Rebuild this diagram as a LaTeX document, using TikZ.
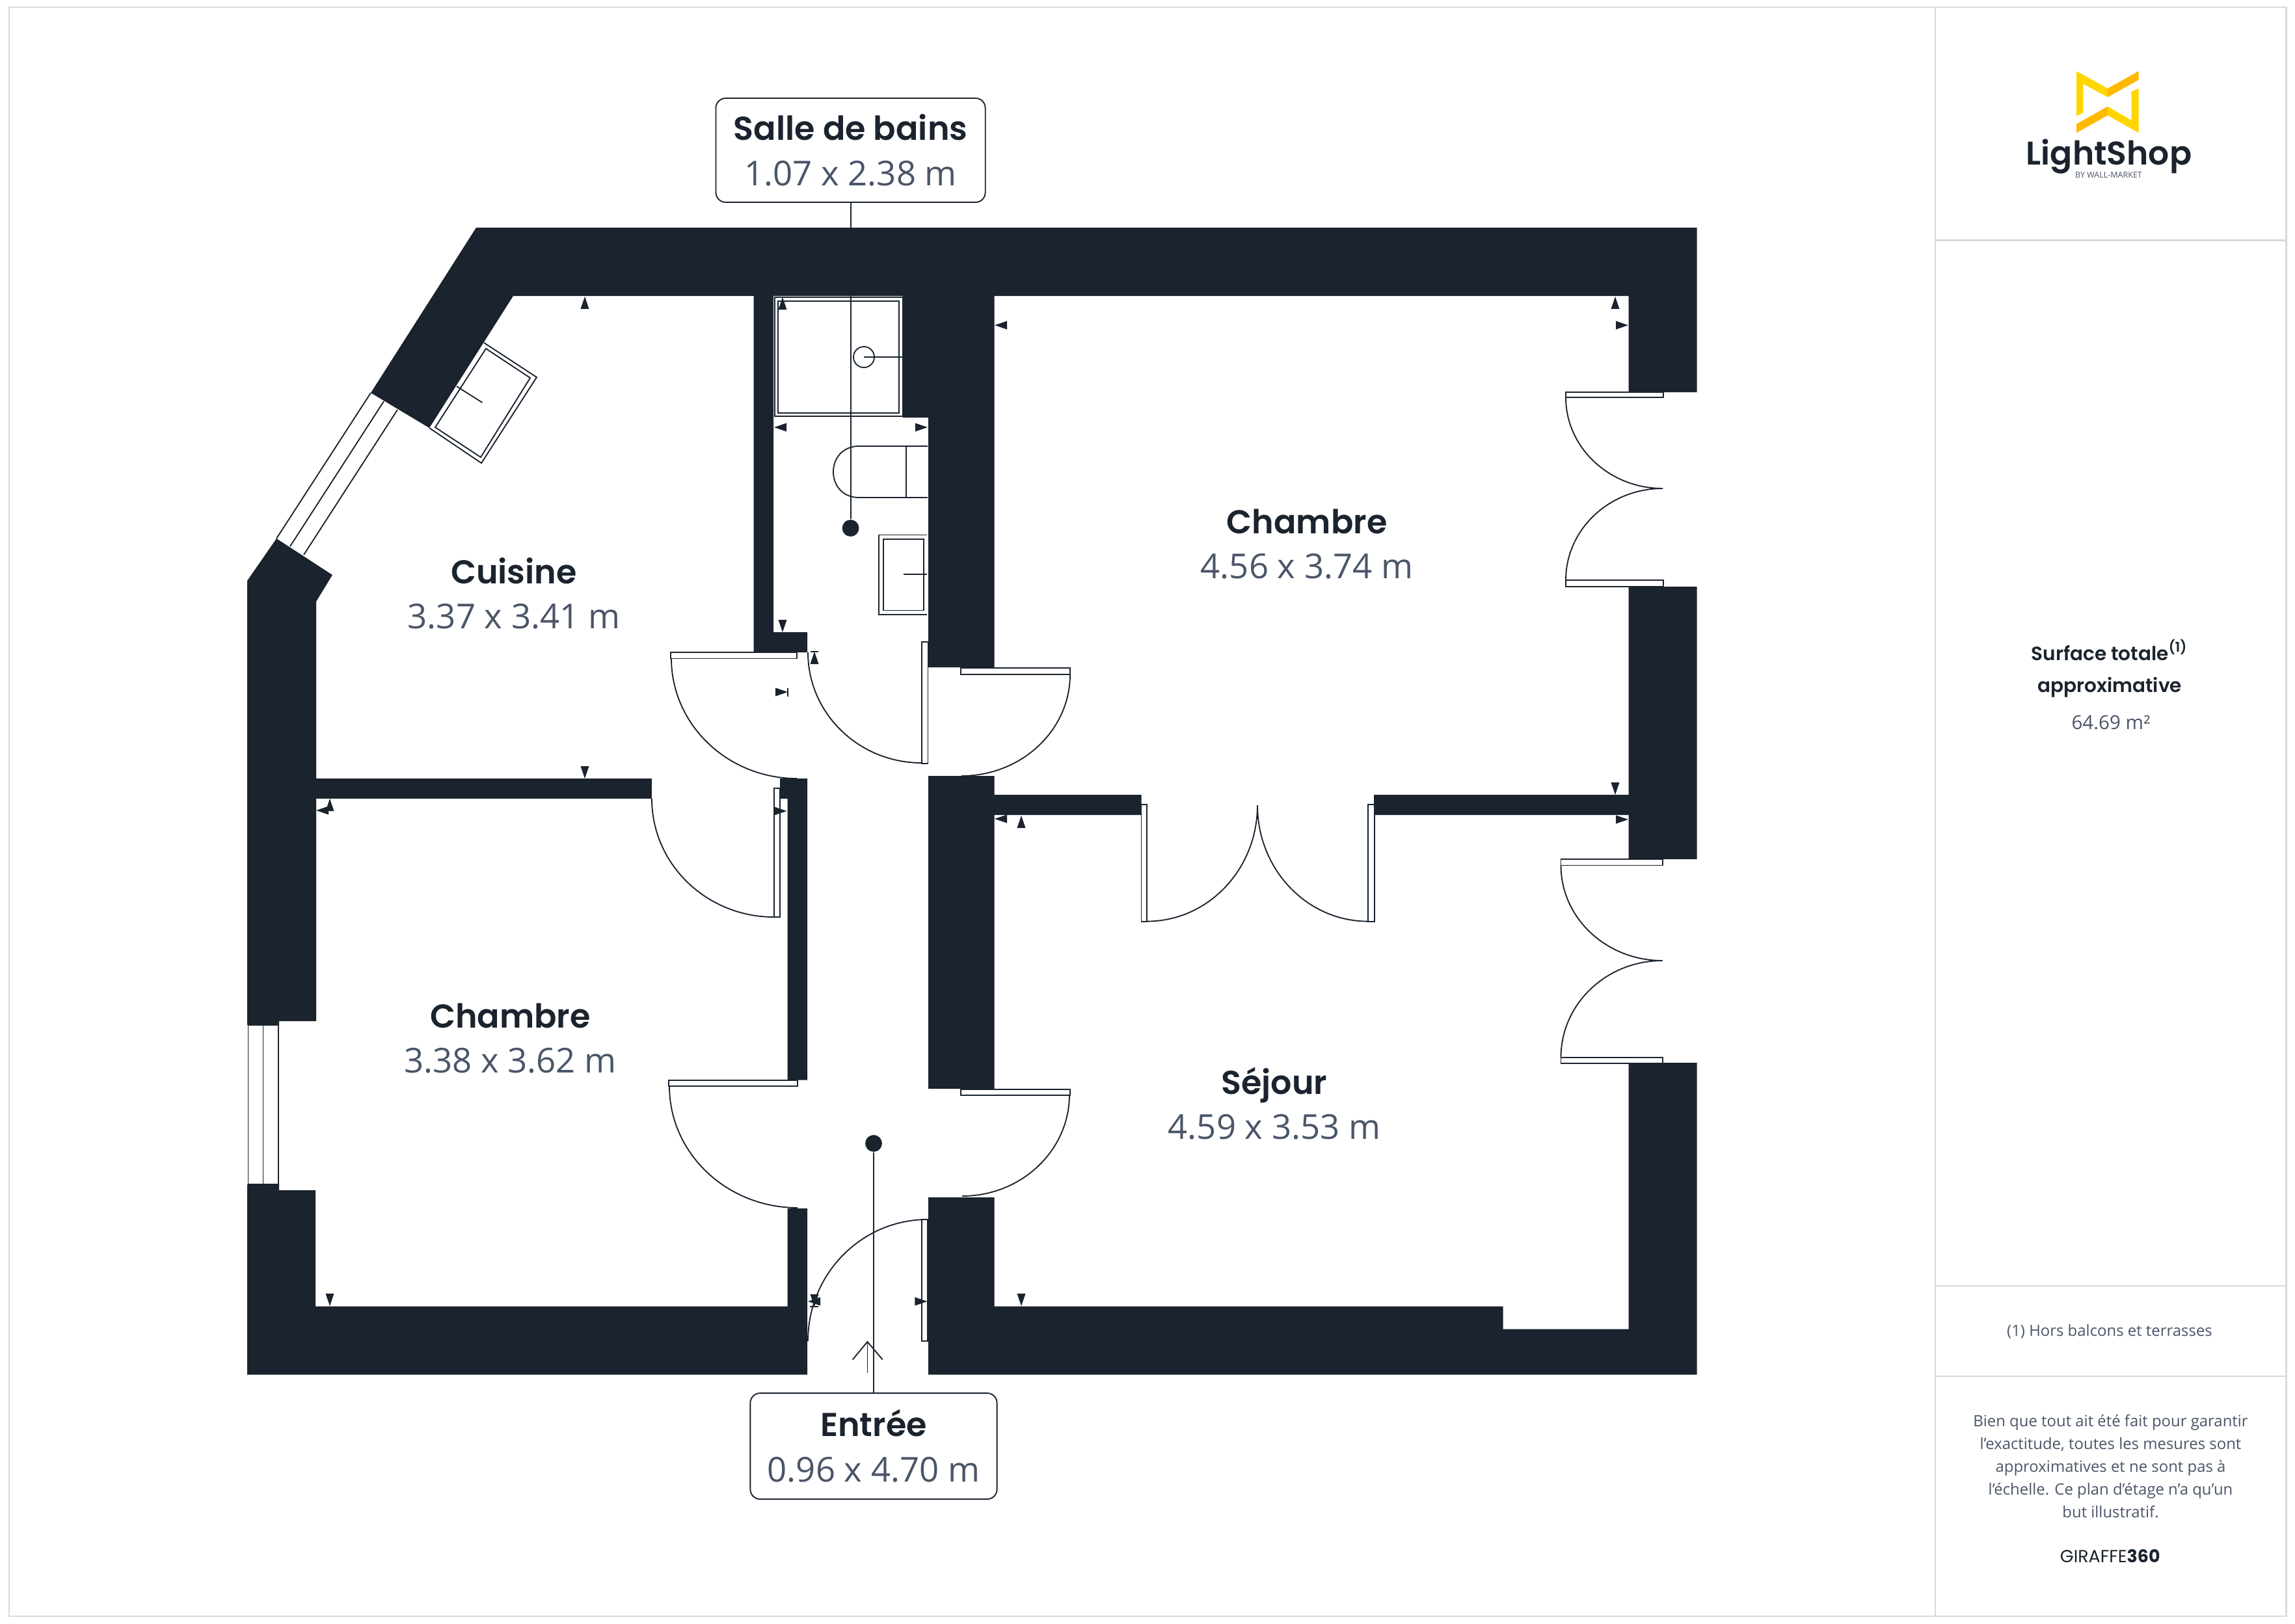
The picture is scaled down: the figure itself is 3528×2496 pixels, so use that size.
\documentclass[tikz,border=0pt]{standalone}
\usepackage{fontspec}
\usepackage{xcolor}
\setmainfont{Open Sans}
\newfontfamily\namefont{Poppins SemiBold}
\newfontfamily\girfont{Poppins}
\definecolor{wallcol}{HTML}{1A232E}
\definecolor{dimcol}{HTML}{4A5568}
\definecolor{panelcol}{HTML}{D9D9D9}
\definecolor{logoyel}{HTML}{FFD600}
\definecolor{logoora}{HTML}{FFB900}
\newcommand{\roomtext}[2]{{\namefont\fontsize{12.2}{16.7}\selectfont\color{wallcol}#1}\\{\color{dimcol}#2}}
\begin{document}
\begin{tikzpicture}[x=0.24pt,y=-0.24pt,
    wall/.style={fill=wallcol,draw=none},
    thinline/.style={draw=wallcol,line width=0.45pt},
    leaf/.style={thinline,fill=white},
    panel/.style={draw=panelcol,line width=0.55pt},
    room/.style={align=center,inner sep=0pt,font=\fontsize{12.65}{16.7}\selectfont},
    callout/.style={draw=wallcol,line width=0.45pt,fill=white,rounded corners=3.6pt,inner sep=0pt},
    spot/.style={circle,fill=wallcol,inner sep=0pt,minimum size=6.2pt},
    small/.style={align=center,inner sep=0pt,text=dimcol,font=\fontsize{5.74}{8.4}\selectfont}]
    \useasboundingbox (0,0) rectangle (3528,2496);

    % The sheet
    \draw[panel] (14,10.7) rectangle (3514.6,2485);
    \draw[panel] (2975,10.7) -- (2975,2485);
    \draw[panel] (2975,369.5) -- (3514.6,369.5);
    \draw[panel] (2975,1977) -- (3514.6,1977);
    \draw[panel] (2975,2116) -- (3514.6,2116);

    % The walls
    \fill[wall] (732,350) -- (2608.7,350) -- (2608.7,603) -- (2503.7,603) -- (2503.7,455) -- (1528.6,455) -- (1528.6,1026) -- (1427,1026) -- (1427,642) -- (1387.5,642) -- (1387.5,455) -- (1189,455) -- (1189,972) -- (1241,972) -- (1241,1003) -- (1158.5,1003) -- (1158.5,455) -- (789,455) -- (660,658) -- (570,604) -- cycle;
    \fill[wall] (425,828) -- (511,884) -- (486,925) -- (486,1570) -- (429,1570) -- (429,1576) -- (380,1576) -- (380,893) -- cycle;
    \fill[wall] (380,1821) -- (429,1821) -- (429,1830) -- (485,1830) -- (485,2008.5) -- (1210.6,2008.5) -- (1210.6,1858) -- (1241,1858) -- (1241,2113.6) -- (380,2113.6) -- cycle;
    \fill[wall] (485,1196.6) -- (1001.5,1196.6) -- (1001.5,1228) -- (485,1228) -- cycle;
    \fill[wall] (1199,1197) -- (1241,1197) -- (1241,1660.5) -- (1210.6,1660.5) -- (1210.6,1228) -- (1199,1228) -- cycle;
    \fill[wall] (1427,1193) -- (1528.6,1193) -- (1528.6,1222) -- (1754.5,1222) -- (1754.5,1253) -- (1528.6,1253) -- (1528.6,1674) -- (1427,1674) -- cycle;
    \fill[wall] (2112,1222) -- (2503.7,1222) -- (2503.7,902) -- (2608.7,902) -- (2608.7,1321) -- (2503.7,1321) -- (2503.7,1253) -- (2112,1253) -- cycle;
    \fill[wall] (1427,1841) -- (1528.6,1841) -- (1528.6,2008.5) -- (2310.7,2008.5) -- (2310.7,2043.5) -- (2503.7,2043.5) -- (2503.7,1634) -- (2608.7,1634) -- (2608.7,2113.6) -- (1427,2113.6) -- cycle;

    % Windows
    \draw[thinline] (570,604) -- (425,828) (590,617) -- (446,840) (611,630) -- (467,853);
    \draw[thinline] (381.5,1576) -- (381.5,1821) -- (427.6,1821) -- (427.6,1576) -- cycle (404.5,1576) -- (404.5,1821);

    % Door leaves
    \foreach \xa/\ya/\xb/\yb in {1031/1003/1225/1012.5,1417/987/1426.5/1174,1477/1027/1645/1037,1190/1212/1199/1410,1027.6/1661/1226/1670.4,1477/1675/1644.6/1684,1417/1875/1426/2062,2406.7/603/2556.7/611,2406.7/892/2556.7/902,1754.5/1237/1763/1416.6,2103/1237/2112.6/1416.6,2399.5/1321/2556/1330.5,2399.5/1626/2556/1635}
        \draw[leaf] (\xa,\ya) rectangle (\xb,\yb);

    % Door swings
    \draw[thinline] (1032,1012) .. controls (1032,1114) and (1118.4,1197) .. (1225,1197);
    \draw[thinline] (1242,1003) .. controls (1242,1097) and (1320.3,1173) .. (1417,1173);
    \draw[thinline] (1645,1037) .. controls (1645,1123) and (1570,1193) .. (1478,1193);
    \draw[thinline] (1002,1228) .. controls (1002,1328.5) and (1086,1410) .. (1190,1410);
    \draw[thinline] (1029,1670) .. controls (1029,1773) and (1117,1857) .. (1226,1857);
    \draw[thinline] (1644,1683) .. controls (1644,1769) and (1570,1839) .. (1479,1839);
    \draw[thinline] (1426,1875) .. controls (1324.4,1875) and (1242,1958.7) .. (1242,2062);
    \draw[thinline] (2407,611) .. controls (2407,688) and (2474,751) .. (2556,751);
    \draw[thinline] (2407,892) .. controls (2407,814) and (2474,751) .. (2556,751);
    \draw[thinline] (1763,1416.6) .. controls (1857,1416.6) and (1933,1336.6) .. (1933,1238);
    \draw[thinline] (2103,1416.6) .. controls (2009,1416.6) and (1933,1336.6) .. (1933,1238);
    \draw[thinline] (2399.5,1330.5) .. controls (2399.5,1411.4) and (2469.4,1477) .. (2555.6,1477);
    \draw[thinline] (2399.5,1626) .. controls (2399.5,1543.7) and (2469.4,1477) .. (2555.6,1477);

    % Fittings
    \draw[thinline] (744,527) -- (825,580) -- (740,712) -- (660,658);
    \draw[thinline] (747,536) -- (815,581) -- (739,703) -- (669,657) -- cycle;
    \draw[thinline] (702,594) -- (741.5,619);
    \draw[thinline] (1191,457) rectangle (1387.5,640);
    \draw[thinline] (1196,463) rectangle (1382,635);
    \draw[thinline] (1328,549) circle[radius=16];
    \draw[thinline] (1328,549) -- (1387,549);
    \draw[thinline] (1426,686) -- (1320.5,686) .. controls (1295,686) and (1281,705) .. (1281,725.5) .. controls (1281,746) and (1295,765) .. (1320.5,765) -- (1426,765);
    \draw[thinline] (1393,686) -- (1393,765);
    \draw[thinline] (1425,822.5) -- (1351,822.5) -- (1351,945) -- (1425,945);
    \draw[thinline] (1358,829) rectangle (1420,938.5);
    \draw[thinline] (1389,883) -- (1425,883);

    % Wall marks
    \foreach \tx/\ty/\tang in {899/456/-90,1203/457/-90,1252/1002/-90,1570/1254/-90,2483/456/-90,507/1228/-90,
        899/1197/90,1203/972/90,2483/1222/90,1570/2008/90,507/2008/90,1252/2009/90,
        1529/500/0,1190/657/0,1529/1259/0,486/1246/0,1242/2001/0,
        1426/657/180,1211/1064/180,1209.4/1247/180,2503/500/180,2503/1260/180,1425.4/2001/180}
        \fill[wallcol,shift={(\tx,\ty)},rotate=\tang] (0,0) -- (19,6.5) -- (19,-6.5) -- cycle;
    \draw[thinline] (1245.5,1002) -- (1258,1002);
    \draw[thinline] (1211,1058) -- (1211,1070.5);
    \draw[thinline] (1245,2009) -- (1258,2009);

    % Entry arrow
    \draw[thinline] (1310.7,2090.4) -- (1333.5,2063) -- (1356.7,2090.4);
    \draw[thinline] (1333.5,2063) -- (1333.5,2110.5);

    % Rooms
    \node [room] at (790,912.5) (cuisine) {\roomtext{Cuisine}{3.37 x 3.41 m}};
    \node [room] at (784.5,1596.5) (chambreb) {\roomtext{Chambre}{3.38 x 3.62 m}};
    \node [room] at (2009,836.5) (chambrea) {\roomtext{Chambre}{4.56 x 3.74 m}};
    \node [room] at (1959,1696.5) (sejour) {\roomtext{Séjour}{4.59 x 3.53 m}};

    % Callouts
    \node [callout,minimum width=99.4pt,minimum height=38.4pt] at (1307.6,231) (bains) {};
    \node [callout,minimum width=91pt,minimum height=39.1pt] at (1343,2223.5) (entree) {};
    \node [room] at (bains) (bainstext) {\roomtext{Salle de bains}{1.07 x 2.38 m}};
    \node [room] at (entree) [yshift=0.1pt] (entreetext) {\roomtext{Entrée}{0.96 x 4.70 m}};
    \node [spot] at (1307.6,812) (bainsdot) {};
    \node [spot] at (1343,1758) (entreedot) {};
    \draw[thinline] (bains) -- (bainsdot);
    \draw[thinline] (entree) -- (entreedot);

    % Logo
    \fill[logoyel] (3192,109.3) -- (3240,136) -- (3240,149.3) -- (3202.3,129) -- (3202.3,173.3) -- (3192,178.3) -- cycle;
    \fill[logoora] (3240,136) -- (3287.7,109.3) -- (3287.7,122.7) -- (3240,149.3) -- cycle;
    \fill[logoora] (3192,190.7) -- (3240,163.7) -- (3240,177.3) -- (3192,204.3) -- cycle;
    \fill[logoyel] (3240,163.7) -- (3276.7,185) -- (3276.7,140.7) -- (3287.7,135.7) -- (3287.7,204.3) -- (3240,177.3) -- cycle;
    \node [inner sep=0pt,anchor=base,text=wallcol,font=\namefont\fontsize{12.1}{14}\selectfont] at (3242,253) (brand) {LightShop};
    \node [inner sep=0pt,text=dimcol,font=\fontsize{3}{3}\selectfont] at (3241.5,269) (brandsub) {BY WALL-MARKET};

    % Side panel
    \node [align=center,inner sep=0pt,text=wallcol,font=\namefont\fontsize{7.1}{11.8}\selectfont] at (3243,1028) (surface) {Surface totale\textsuperscript{(1)}\\approximative};
    \node [small,font=\fontsize{7.1}{8.4}\selectfont] at (3245,1111) (aire) {64.69 m²};
    \node [small] at (3243,2047) (hors) {(1) Hors balcons et terrasses};
    \node [small] at (3244.5,2254) (avis) {Bien que tout ait été fait pour garantir\\l’exactitude, toutes les mesures sont\\approximatives et ne sont pas à\\l’échelle. Ce plan d’étage n’a qu’un\\but illustratif.};
    \node [inner sep=0pt,text=wallcol,font=\girfont\fontsize{6.45}{8}\selectfont] at (3243.7,2392.5) (giraffe) {GIRAFFE\textbf{360}};

\end{tikzpicture}
\end{document}
